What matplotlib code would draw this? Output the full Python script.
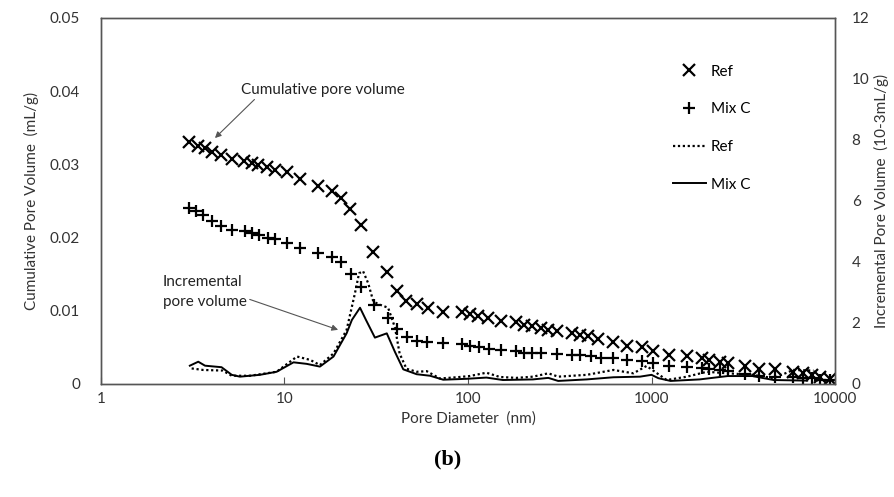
import matplotlib.pyplot as plt

plt.rcParams['font.family'] = ['Lato', 'DejaVu Sans']

# cumulative pore volume (mL/g), markers
ref_d = [3.03, 3.39, 3.69, 4.01, 4.51, 5.16, 6.04, 6.63, 7.20, 8.00, 8.88, 10.3, 12.1,
         15.3, 18.1, 20.2, 22.7, 26.0, 30.5, 36.3, 40.9, 45.9, 52.5, 60.3, 72.8, 92.4,
         102.5, 113.8, 129, 151, 183, 202, 224, 249, 274, 304, 367, 408, 453, 513, 615,
         733, 885, 1024, 1251, 1567, 1878, 2066, 2362, 2623, 3233, 3868, 4709, 5927,
         6720, 7460, 8280, 9390]
ref_cum = [0.0331, 0.0325, 0.0322, 0.0317, 0.0313, 0.0307, 0.0305, 0.0302, 0.0299,
           0.0297, 0.0293, 0.0289, 0.0280, 0.0270, 0.0264, 0.0254, 0.0239, 0.0217,
           0.0180, 0.0153, 0.0127, 0.0114, 0.0109, 0.0104, 0.0099, 0.0098, 0.0095,
           0.0093, 0.0090, 0.0086, 0.0084, 0.0081, 0.0079, 0.0077, 0.0074, 0.0072,
           0.0070, 0.0067, 0.0065, 0.0062, 0.0058, 0.0052, 0.0050, 0.0045, 0.0040,
           0.0038, 0.0035, 0.0033, 0.0030, 0.0028, 0.0024, 0.0021, 0.0020, 0.0017,
           0.0015, 0.0012, 0.0010, 0.0007]

mix_d = [3.03, 3.30, 3.60, 4.01, 4.51, 5.16, 6.10, 6.63, 7.30, 8.10, 8.90, 10.3, 12.1,
         15.3, 18.1, 20.2, 22.9, 26.2, 30.8, 36.5, 40.9, 46.4, 52.5, 60.0, 73.5, 92.4,
         102.5, 114.5, 130, 151, 183, 202, 224, 249, 304, 367, 408, 470, 530, 620, 733,
         885, 1024, 1251, 1567, 1878, 2066, 2362, 2623, 3233, 3868, 4709, 5927, 6720,
         7460, 8280, 9390]
mix_cum = [0.0241, 0.0237, 0.0231, 0.0223, 0.0216, 0.0210, 0.0209, 0.0206, 0.0204,
           0.0200, 0.0198, 0.0193, 0.0186, 0.0179, 0.0174, 0.0166, 0.0150, 0.0132,
           0.0108, 0.0090, 0.0075, 0.0064, 0.0059, 0.0057, 0.0056, 0.0054, 0.0052,
           0.0050, 0.0048, 0.0046, 0.0045, 0.0043, 0.0043, 0.0042, 0.0041, 0.0040,
           0.0039, 0.0038, 0.0036, 0.0035, 0.0033, 0.0031, 0.0029, 0.0025, 0.0023,
           0.0022, 0.0021, 0.0019, 0.0018, 0.0013, 0.0011, 0.0010, 0.0009, 0.0008,
           0.0008, 0.0006, 0.0005]

# incremental pore volume (10-3 mL/g), lines
ref_inc_d = [3.12, 3.6, 4.6, 5.16, 6.5, 9.06, 11.7, 13.8, 15.6, 18.5, 21.8, 24.2, 25.5,
             26.8, 28.6, 30.5, 33.1, 36.7, 40.0, 42.4, 46.2, 52.5, 59.6, 70.2, 86.7, 102,
             126, 149, 184, 226, 274, 310, 444, 620, 796, 940, 1210, 1560, 2000, 2600,
             3550, 4630, 5930, 7630]
ref_inc = [0.51, 0.46, 0.44, 0.27, 0.27, 0.40, 0.90, 0.79, 0.62, 1.00, 1.77, 2.97, 3.63,
           3.70, 3.30, 2.70, 2.60, 2.50, 1.85, 1.00, 0.50, 0.40, 0.42, 0.18, 0.22, 0.26,
           0.37, 0.23, 0.20, 0.24, 0.35, 0.24, 0.30, 0.46, 0.35, 0.59, 0.13, 0.24, 0.40,
           0.35, 0.30, 0.19, 0.46, 0.44]

mix_inc_d = [3.05, 3.39, 3.69, 4.54, 5.16, 5.72, 7.34, 9.06, 11.2, 13.2, 15.6, 18.5, 21.8,
             23.3, 25.8, 27.8, 31.1, 36.1, 40.0, 44.4, 52.5, 62.1, 73.3, 98.5, 126, 155,
             226, 274, 310, 444, 620, 865, 1000, 1090, 1270, 1830, 2600, 3550, 4630, 7050]
mix_inc = [0.60, 0.73, 0.60, 0.55, 0.30, 0.24, 0.30, 0.40, 0.71, 0.66, 0.57, 0.90, 1.66,
           2.10, 2.50, 2.10, 1.52, 1.66, 1.05, 0.48, 0.32, 0.27, 0.14, 0.17, 0.21, 0.13,
           0.15, 0.20, 0.10, 0.15, 0.22, 0.24, 0.30, 0.19, 0.10, 0.15, 0.26, 0.26, 0.13,
           0.11]

fig = plt.figure(figsize=(8.95, 4.97), dpi=100)
ax = fig.add_axes([0.1128, 0.2274, 0.8202, 0.7364])
ax2 = ax.twinx()

ax.plot(ref_d, ref_cum, 'x', color='black', ms=8, mew=1.6, ls='none', label='Ref')
ax.plot(mix_d, mix_cum, '+', color='black', ms=9, mew=1.6, ls='none', label='Mix C')
ax2.plot(ref_inc_d, ref_inc, color='black', ls=(0, (1, 1.2)), lw=1.6, label='Ref')
ax2.plot(mix_inc_d, mix_inc, color='black', ls='-', lw=1.4, label='Mix C')

ax.set_xscale('log')
ax.set_xlim(1, 10000)
ax.set_ylim(0, 0.05)
ax2.set_ylim(0, 12)
ax.set_xticks([1, 10, 100, 1000, 10000])
ax.set_xticklabels(['1', '10', '100', '1000', '10000'])
ax.minorticks_off()
ax.set_yticks([0, 0.01, 0.02, 0.03, 0.04, 0.05])
ax.set_yticklabels(['0', '0.01', '0.02', '0.03', '0.04', '0.05'])
ax2.set_yticks(range(0, 13, 2))

ax.tick_params(axis='x', direction='in', length=5, color='#555555', labelsize=11,
               pad=6, labelcolor='#333333')
ax.tick_params(axis='y', length=0, labelsize=11, pad=15, labelcolor='#333333')
ax2.tick_params(axis='y', length=0, labelsize=11, pad=12, labelcolor='#333333')

for a in (ax, ax2):
    for s in a.spines.values():
        s.set_color('#555555')
        s.set_linewidth(1.0)

ax.set_xlabel('Pore Diameter  (nm)', fontsize=11, color='#333333', labelpad=4)
ax.set_ylabel('Cumulative Pore Volume  (mL/g)', fontsize=11, color='#333333', labelpad=8)
ax2.set_ylabel('Incremental Pore Volume  (10-3mL/g)', fontsize=11, color='#333333',
               labelpad=3)

h1, l1 = ax.get_legend_handles_labels()
h2, l2 = ax2.get_legend_handles_labels()
ax2.legend(h1 + h2, l1 + l2, loc='upper left', bbox_to_anchor=(0.76, 0.91),
           frameon=False, fontsize=11, labelspacing=1.55, handlelength=2.2,
           handletextpad=0.3)

ax.annotate('Cumulative pore volume', xy=(4.18, 0.0336), xytext=(5.79, 0.0402),
            fontsize=11, color='#222222', va='center',
            arrowprops=dict(arrowstyle='-|>', color='#555555', lw=0.8,
                            shrinkA=0, shrinkB=0, mutation_scale=9,
                            relpos=(0.1, 0.0)),
            annotation_clip=False)
ax.annotate('Incremental\npore volume', xy=(19.6, 0.0074), xytext=(2.18, 0.0126),
            fontsize=11, color='#222222', va='center', linespacing=1.5,
            arrowprops=dict(arrowstyle='-|>', color='#555555', lw=0.8,
                            shrinkA=0, shrinkB=0, mutation_scale=9,
                            relpos=(1.0, 0.3)),
            annotation_clip=False)

fig.text(0.5, 0.075, '(b)', ha='center', va='center', fontsize=16, fontweight='bold',
         family='Liberation Serif')

fig.savefig('out.png', dpi=100)
